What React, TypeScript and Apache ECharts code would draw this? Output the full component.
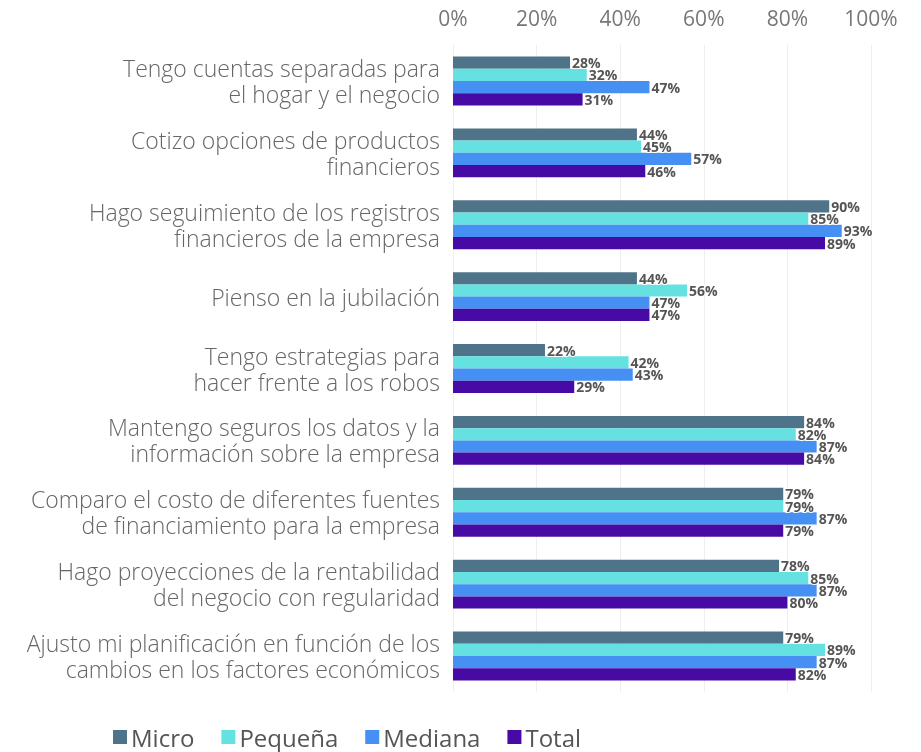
import React, { useEffect, useRef } from "react";
import * as echarts from "echarts";

const categories = [
  "Tengo cuentas separadas para\nel hogar y el negocio",
  "Cotizo opciones de productos\nfinancieros",
  "Hago seguimiento de los registros\nfinancieros de la empresa",
  "Pienso en la jubilación",
  "Tengo estrategias para\nhacer frente a los robos",
  "Mantengo seguros los datos y la\ninformación sobre la empresa",
  "Comparo el costo de diferentes fuentes\nde financiamiento para la empresa",
  "Hago proyecciones de la rentabilidad\ndel negocio con regularidad",
  "Ajusto mi planificación en función de los\ncambios en los factores económicos",
];

const seriesNames = ["Micro", "Pequeña", "Mediana", "Total"];
const micro = [28, 44, 90, 44, 22, 84, 79, 78, 79];
const pequena = [32, 45, 85, 56, 42, 82, 79, 85, 89];
const mediana = [47, 57, 93, 47, 43, 87, 87, 87, 87];
const total = [31, 46, 89, 47, 29, 84, 79, 80, 82];
const colors = ["#4f7389", "#64e1e0", "#4690f3", "#470aa4"];
const xTicks = [0, 20, 40, 60, 80, 100];

export default function App() {
  const ref = useRef<HTMLDivElement>(null);
  useEffect(() => {
    if (!ref.current) return;
    const chart = echarts.init(ref.current, null, { renderer: "svg" });
    const values = [micro, pequena, mediana, total];
    chart.setOption({
      animation: false,
      textStyle: { fontFamily: "'Open Sans', sans-serif" },
      grid: { left: 453, right: 50, top: 45, bottom: 60, containLabel: false },
      legend: {
        data: seriesNames,
        left: 108,
        top: 720,
        itemWidth: 14,
        itemHeight: 14,
        itemGap: 27,
        icon: "rect",
        textStyle: {
          fontSize: 24,
          color: "#555",
          fontFamily: "'Open Sans', sans-serif",
          padding: [0, 0, 0, -1],
        },
      },
      xAxis: {
        type: "value",
        position: "top",
        min: xTicks[0],
        max: xTicks[xTicks.length - 1],
        interval: 20,
        axisLine: { show: false },
        axisTick: { show: false },
        axisLabel: {
          formatter: "{value}%",
          fontSize: 21,
          color: "#777",
          margin: 17,
          fontFamily: "'Open Sans', sans-serif",
        },
        splitLine: { show: true, lineStyle: { color: "#eeeeee", width: 1 } },
      },
      yAxis: {
        type: "category",
        data: categories,
        inverse: true,
        axisLine: { show: false },
        axisTick: { show: false },
        axisLabel: {
          fontSize: 23,
          color: "#666",
          lineHeight: 26,
          margin: 13,
          padding: [6, 0, 0, 0],
          fontFamily: "'Open Sans', sans-serif",
          fontWeight: 300,
        },
      },
      series: seriesNames.map((name, i) => ({
        name,
        type: "bar",
        data: values[i],
        barGap: "0%",
        barCategoryGap: "32%",
        itemStyle: { color: colors[i] },
        label: {
          show: true,
          position: "right",
          distance: 2,
          formatter: "{c}%",
          fontSize: 14,
          fontWeight: "bold",
          color: "#555",
          textBorderColor: "#fff",
          textBorderWidth: 2,
          fontFamily: "'Open Sans', sans-serif",
        },
      })),
    });
    return () => chart.dispose();
  }, []);
  return (
    <div
      ref={ref}
      style={{ position: "fixed", left: 0, top: 0, width: 921, height: 752 }}
    />
  );
}
